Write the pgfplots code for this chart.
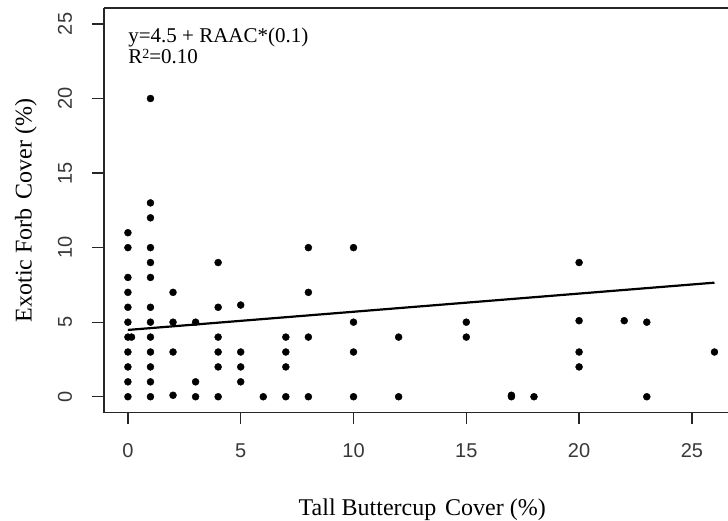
\documentclass[border=0pt]{standalone}
\usepackage{pgfplots}
\pgfplotsset{compat=1.18}
\usepackage{fontspec}
\setmainfont{Liberation Serif}
\newfontfamily\arialfont{Liberation Sans}
\pgfplotstableread{
x y
0 0
0 1
0 2
0 3
0 4
0.16 4
0 5
0 6
0 7
0 8
0 10
0 11
1 0
1 1
1 2
1 3
1 4
1 5
1 6
1 8
1 9
1 10
1 12
1 13
1 20
2 0.1
2 3
2 5
2 7
3 0
3 1
3 5
4 0
4 2
4 3
4 4
4 6
4 9
5 1
5 2
5 3
5 6.15
6 0
7 0
7 2
7 3
7 4
8 0
8 4
8 7
8 10
10 0
10 3
10 5
10 10
12 0
12 4
15 4
15 5
17 0
17 0.1
18 0
20 2
20 3
20 5.1
20 9
22 5.1
23 0
23 5
26 3
}\pointsdata
\pgfplotsset{
  every axis x label/.style={at={(axis description cs:0.51,-0.2528)}, anchor=base, font=\fontsize{24}{26}\selectfont},
  every axis y label/.style={at={(axis description cs:-0.1159,0.5)}, rotate=90, anchor=base, font=\fontsize{24}{26}\selectfont},
}
\begin{document}
\begin{tikzpicture}
\begin{axis}[
  name=ax,
  scale only axis,
  width=624pt, height=404.7pt,
  xmin=-1.06, xmax=26.6, ymin=-1.07, ymax=26.07,
  axis lines=left,
  axis line style={-, line width=1.3pt, draw=black!85},
  tick style={line width=1.3pt, draw=black!85},
  tick align=outside,
  major tick length=11.5pt,
  xtick={0,5,...,25}, ytick={0,5,...,25},
  /pgf/number format/assume math mode=true,
  tick label style={font=\fontsize{20}{21}\selectfont\arialfont, text=black!78},
  yticklabel style={rotate=90, anchor=south},
  xticklabel style={anchor=north},
  xticklabel shift=16pt,
  yticklabel shift=17pt,
  xlabel={Tall Buttercup\hspace{0.12em} Cover (\%)},
  ylabel={Exotic Forb\hspace{0.12em} Cover (\%)},
  clip=false,
]
\draw[line width=1.3pt, black!85] (rel axis cs:0,1) -- (rel axis cs:1,1);
\addplot[only marks, mark=*, mark size=3.5pt, black] table[x=x, y=y] {\pointsdata};
\addplot[black, line width=2.2pt] coordinates {(0,4.48) (26,7.65)};
\node[anchor=base west, inner sep=0pt, font=\fontsize{21}{22}\selectfont] at (axis cs:0.01,23.77) {y=4.5 + RAAC*(0.1)};
\node[anchor=base west, inner sep=0pt, font=\fontsize{21}{22}\selectfont] at (axis cs:0.01,22.36) {R\raisebox{0.45ex}{\fontsize{14}{14}\selectfont 2}=0.10};
\end{axis}
\pgfresetboundingbox
\path[use as bounding box] ([xshift=-104pt,yshift=-108.3pt]ax.south west) rectangle ([yshift=8pt]ax.north east);
\end{tikzpicture}
\end{document}
